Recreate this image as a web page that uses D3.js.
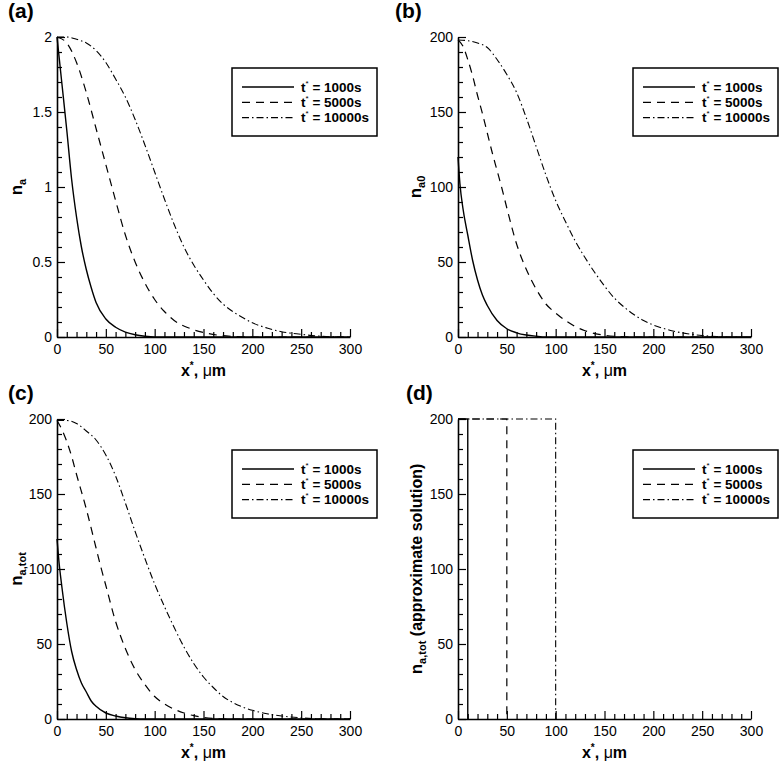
<!DOCTYPE html>
<meta charset="utf-8">
<title>concentration profiles</title>
<body style="margin:0;background:#fff">
<script src="https://cdnjs.cloudflare.com/ajax/libs/d3/7.8.5/d3.min.js"></script>
<script>
// legend entries / tick values
var times = ["1000s", "5000s", "10000s"];
var xTicks = [0, 50, 100, 150, 200, 250, 300];
var naTicks = [0, 0.5, 1, 1.5, 2];
var nTicks = [0, 50, 100, 150, 200];

// (a) n_a  -- [x um, value]
var na_1000 = [[0,2],[5,1.69],[10,1.38],[15,1.05],[20,0.8],[25,0.6],[30,0.45],[35,0.33],[40,0.23],[50,0.12],[60,0.065],[70,0.033],[80,0.015],[90,0.005],[100,0],[300,0]];
var na_5000 = [[0,2],[10,1.96],[20,1.83],[30,1.63],[40,1.39],[50,1.15],[60,0.91],[70,0.68],[80,0.5],[90,0.36],[100,0.25],[110,0.17],[120,0.11],[135,0.06],[150,0.03],[165,0.012],[180,0.004],[200,0],[300,0]];
var na_10000 = [[0,2],[10,2],[20,1.985],[30,1.96],[40,1.91],[50,1.83],[60,1.72],[70,1.6],[80,1.45],[90,1.28],[100,1.1],[110,0.92],[120,0.75],[130,0.6],[140,0.48],[150,0.38],[160,0.29],[170,0.22],[180,0.17],[190,0.13],[200,0.095],[215,0.06],[230,0.035],[250,0.018],[270,0.005],[290,0],[300,0]];

// (b) n_a0
var na0_1000 = [[0,120],[2,102],[5,86],[10,68],[15,51],[20,38],[25,28],[30,21],[40,11],[50,5.5],[60,2.8],[70,1.3],[80,0.5],[90,0],[300,0]];
var na0_5000 = [[0,198],[5,194],[10,185],[15,174],[20,161],[25,149],[30,136],[35,123],[40,111],[45,99],[50,86],[60,62],[70,45],[80,32],[90,22],[100,16],[110,11],[120,7],[130,4.2],[140,2.3],[150,1.2],[160,0.5],[175,0],[300,0]];
var na0_10000 = [[0,198],[10,197.5],[20,196],[30,193],[40,185],[50,175],[60,163],[70,146],[80,127],[90,108],[100,91],[110,77],[120,64],[130,53],[140,43],[150,34],[160,26],[170,20],[180,15],[190,11],[200,8],[210,5.8],[220,4],[235,2.2],[250,1],[265,0.3],[280,0],[300,0]];

// (c) n_a,tot
var natot_1000 = [[0,120],[2,105],[5,88],[10,64],[15,45],[20,33],[25,24],[30,18],[35,12],[40,8.5],[50,4],[60,2],[70,0.8],[80,0.2],[90,0],[300,0]];
var natot_5000 = [[0,199],[5,193],[10,185],[15,175],[20,163],[30,140],[40,114],[45,101],[50,89],[60,65],[70,47],[80,33],[90,23],[100,15],[110,10],[120,6.5],[130,4],[140,2.2],[150,1.1],[160,0.4],[175,0],[300,0]];
var natot_10000 = [[0,199],[10,199],[20,197],[30,192],[40,186],[50,176],[60,162],[70,144],[80,125],[90,107],[100,90],[110,75],[120,61],[130,48],[140,37],[150,28],[160,21],[170,15],[180,11],[190,8],[200,5.8],[215,3.5],[230,2],[250,0.8],[265,0.2],[280,0],[300,0]];

// (d) approximate solution (step fronts)
var approx_1000 = [[0,200],[10,200],[10,0]];
var approx_5000 = [[0,200],[50,200],[50,0]];
var approx_10000 = [[0,200],[100,200],[100,0]];

var svg = d3.select("body").append("svg")
    .attr("width", 780).attr("height", 764)
    .style("font-family", "'Liberation Sans', Arial, Helvetica, sans-serif");

var plotW = 293, plotH = 300;
var dashes = [null, "8,6", "7,3,1.5,3"];
var widths = [1.4, 1.2, 1.1];

var panels = [
  {tag: "(a)", tagX: 8, left: 57, top: 37, ymax: 2, yTicks: naTicks, minor: 0.1,
   series: [na_1000, na_5000, na_10000], sub: "a", rest: "", titleX: 22, smooth: true},
  {tag: "(b)", tagX: 395, left: 458, top: 37, ymax: 200, yTicks: nTicks, minor: 10,
   series: [na0_1000, na0_5000, na0_10000], sub: "a0", rest: "", titleX: 421, smooth: true},
  {tag: "(c)", tagX: 8, left: 57, top: 419, ymax: 200, yTicks: nTicks, minor: 10,
   series: [natot_1000, natot_5000, natot_10000], sub: "a,tot", rest: "", titleX: 22, smooth: true},
  {tag: "(d)", tagX: 406, left: 458, top: 419, ymax: 200, yTicks: nTicks, minor: 10,
   series: [approx_1000, approx_5000, approx_10000], sub: "a,tot", rest: " (approximate solution)", titleX: 422, smooth: false}
];

panels.forEach(function(p) {
  var x = d3.scaleLinear().domain([0, 300]).range([p.left, p.left + plotW]);
  var y = d3.scaleLinear().domain([0, p.ymax]).range([p.top + plotH, p.top]);
  var base = p.top + plotH;

  // panel letter
  svg.append("text").attr("x", p.tagX).attr("y", p.top - 19)
    .attr("font-size", 21).attr("font-weight", "bold").text(p.tag);

  // curves
  var line = d3.line()
    .x(function(d) { return x(d[0]); })
    .y(function(d) { return y(d[1]); })
    .curve(p.smooth ? d3.curveMonotoneX : d3.curveLinear);
  p.series.forEach(function(s, i) {
    svg.append("path").datum(s)
      .attr("d", line)
      .attr("fill", "none").attr("stroke", "#000")
      .attr("stroke-width", widths[i])
      .attr("stroke-dasharray", dashes[i]);
  });

  // minor ticks
  var xMinor = d3.range(0, 301, 10).filter(function(v) { return v % 50 != 0; });
  var yMinor = d3.range(0, Math.round(p.ymax / p.minor) + 1)
    .map(function(k) { return +(k * p.minor).toFixed(3); })
    .filter(function(v) { return p.yTicks.indexOf(v) < 0; });

  svg.append("g").attr("transform", "translate(0," + base + ")")
    .call(d3.axisBottom(x).tickValues(xMinor).tickSize(-5).tickFormat(""))
    .call(function(g) { g.select(".domain").remove(); });
  svg.append("g").attr("transform", "translate(" + p.left + ",0)")
    .call(d3.axisLeft(y).tickValues(yMinor).tickSize(-5).tickFormat(""))
    .call(function(g) { g.select(".domain").remove(); });

  // major axes
  var gx = svg.append("g").attr("transform", "translate(0," + base + ")")
    .call(d3.axisBottom(x).tickValues(xTicks).tickSizeInner(-8).tickSizeOuter(0).tickPadding(7));
  var gy = svg.append("g").attr("transform", "translate(" + p.left + ",0)")
    .call(d3.axisLeft(y).tickValues(p.yTicks).tickSizeInner(-8).tickSizeOuter(0).tickPadding(5)
      .tickFormat(d3.format("~g")));

  [gx, gy].forEach(function(g) {
    g.selectAll("text").attr("font-size", 14).attr("fill", "#000")
      .style("font-family", "'Liberation Sans', Arial, sans-serif");
    g.select(".domain").attr("stroke-width", 1.6);
  });
  svg.selectAll(".tick line").attr("stroke-width", 1.2);

  // x title
  var xt = svg.append("text").attr("x", p.left + plotW / 2).attr("y", base + 39)
    .attr("text-anchor", "middle").attr("font-size", 16).attr("font-weight", "bold");
  xt.append("tspan").text("x");
  xt.append("tspan").attr("font-size", 10).attr("dy", -7).text("*");
  xt.append("tspan").attr("dy", 7).text(", ");
  xt.append("tspan").attr("font-weight", "normal").text("\u03bc");
  xt.append("tspan").text("m");

  // y title
  var yt = svg.append("text")
    .attr("transform", "translate(" + p.titleX + "," + (p.top + plotH / 2) + ") rotate(-90)")
    .attr("text-anchor", "middle").attr("font-size", 16).attr("font-weight", "bold");
  yt.append("tspan").attr("font-size", 17).text("n");
  yt.append("tspan").attr("font-size", 11).attr("dy", 4).text(p.sub);
  if (p.rest) yt.append("tspan").attr("dy", -4).text(p.rest);

  // legend
  var lx = p.left + 175, ly = p.top + 31;
  svg.append("rect").attr("x", lx).attr("y", ly).attr("width", 145).attr("height", 68)
    .attr("fill", "#fff").attr("stroke", "#000").attr("stroke-width", 1.5);
  times.forEach(function(t, i) {
    var ry = ly + 19 + i * 15.3;
    svg.append("line").attr("x1", lx + 10).attr("x2", lx + 62)
      .attr("y1", ry).attr("y2", ry)
      .attr("stroke", "#000").attr("stroke-width", widths[i])
      .attr("stroke-dasharray", dashes[i]);
    var tx = svg.append("text").attr("x", lx + 69).attr("y", ry + 4.5)
      .attr("font-size", 13.5).attr("font-weight", "bold");
    tx.append("tspan").text("t");
    tx.append("tspan").attr("font-size", 8).attr("font-weight", "normal").attr("dy", -6).text("*");
    tx.append("tspan").attr("dy", 6).text(" = " + t);
  });
});
</script>
</body>
